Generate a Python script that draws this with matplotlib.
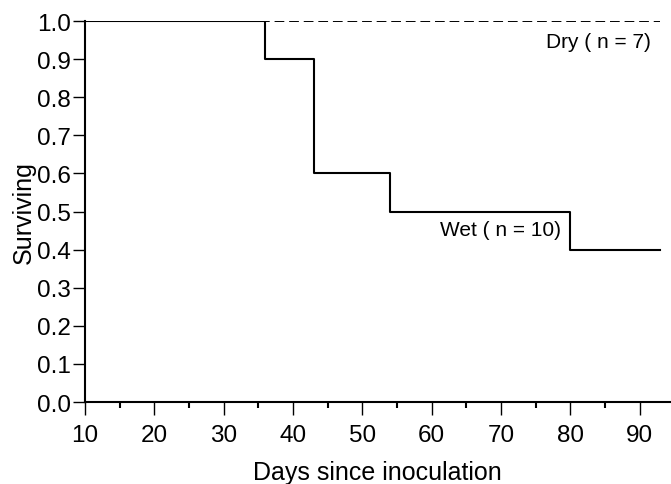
import numpy as np
import matplotlib
matplotlib.use("Agg")
import matplotlib.pyplot as plt
from matplotlib.ticker import MultipleLocator

plt.rcParams["font.family"] = ["Liberation Sans", "DejaVu Sans"]

# Kaplan-Meier style survival steps
wet_days = [10, 36, 43, 54, 80, 93]
wet_surv = [1.0, 0.9, 0.6, 0.5, 0.4, 0.4]
dry_days = [10, 93]
dry_surv = [1.0, 1.0]

fig = plt.figure(figsize=(6.71, 4.85), dpi=100)
ax = fig.add_axes([0.1267, 0.169, 0.872, 0.7856])

ax.plot(dry_days, dry_surv, color="black", lw=1.4, linestyle=(0, (5, 2.5)), zorder=2)
ax.step(wet_days, wet_surv, where="post", color="black", lw=1.5, zorder=3)

ax.text(91.6, 0.947, "Dry ( n = 7)", fontsize=15, ha="right", va="center")
ax.text(78.6, 0.454, "Wet ( n = 10)", fontsize=15, ha="right", va="center")

ax.set_xlim(10, 94.4)
ax.set_ylim(0, 1.0)
ax.xaxis.set_major_locator(MultipleLocator(10))
ax.xaxis.set_minor_locator(MultipleLocator(5))
ax.yaxis.set_major_locator(MultipleLocator(0.1))
ax.yaxis.set_major_formatter(matplotlib.ticker.FormatStrFormatter("%.1f"))

for s in ("top", "right"):
    ax.spines[s].set_visible(False)
for s in ("left", "bottom"):
    ax.spines[s].set_linewidth(1.5)
    ax.spines[s].set_clip_on(False)

ax.tick_params(axis="both", which="major", length=9, width=1.0, labelsize=17.5,
               direction="out")
ax.tick_params(axis="y", which="major", pad=1)
ax.tick_params(axis="x", which="major", pad=7)
ax.tick_params(axis="x", which="minor", length=4, width=1.5, direction="out")

ax.set_xlabel("Days since inoculation", fontsize=18, labelpad=10)
ax.set_ylabel("Surviving", fontsize=18, labelpad=1)

fig.savefig("out.png", dpi=100)
